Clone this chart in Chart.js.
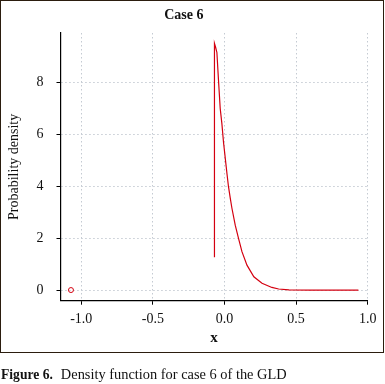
<!DOCTYPE html>
<html>
<head>
<meta charset="utf-8">
<script src="https://cdn.jsdelivr.net/npm/chart.js@4/dist/chart.umd.min.js"></script>
<style>
  html, body { margin: 0; padding: 0; background: #fff; }
  #wrap { position: relative; width: 385px; height: 384px; overflow: hidden; }
  #frame { position: absolute; left: 0; top: 0; width: 382px; height: 351px; border: 1px solid #2b1d0e; pointer-events: none; }
  #plot { position: absolute; left: 0; top: 0; }
  #caption { position: absolute; left: 1px; top: 366px; font: 14.4px "Liberation Serif", serif; color: #111; white-space: nowrap; }
  #caption b { font-size: 13.6px; margin-right: 8px; }
</style>
</head>
<body>
<div id="wrap">
  <canvas id="plot" width="385" height="384"></canvas>
  <div id="frame"></div>
  <div id="caption"><b>Figure 6.</b>Density function for case 6 of the GLD</div>
</div>
<script>
// density curve
const curveX = [-0.070, -0.070, -0.062, -0.053, -0.042, -0.030, -0.018, -0.007, 0.005, 0.017, 0.028, 0.040, 0.052, 0.075, 0.098, 0.122, 0.157, 0.205, 0.262, 0.331, 0.378, 0.45, 0.6, 0.8, 0.935];
const curveY = [1.26, 9.50, 9.35, 9.15, 8.10, 7.00, 6.40, 5.70, 5.10, 4.50, 3.98, 3.55, 3.15, 2.50, 1.99, 1.48, 0.96, 0.51, 0.26, 0.10, 0.04, 0.01, 0, 0, 0];
// lone point at the left
const dotX = [-1.072];
const dotY = [0];

const xTicks = [-1.0, -0.5, 0.0, 0.5, 1.0];
const yTicks = [0, 2, 4, 6, 8];

const serif = "'Liberation Serif', 'Times New Roman', serif";
const gridCol = "#c4cad2";

new Chart(document.getElementById("plot"), {
  type: "scatter",
  data: {
    datasets: [{
      data: curveX.map((x, i) => ({ x: x, y: curveY[i] })),
      showLine: true,
      borderColor: "#d40010",
      borderWidth: 1.2,
      pointRadius: 0,
      tension: 0
    }, {
      data: dotX.map((x, i) => ({ x: x, y: dotY[i] })),
      showLine: false,
      pointRadius: 2.5,
      pointBorderWidth: 1,
      pointBorderColor: "#d40010",
      pointBackgroundColor: "rgba(0,0,0,0)"
    }]
  },
  options: {
    responsive: false,
    animation: false,
    layout: { padding: { left: 0, right: 17.3, top: 0, bottom: 31.3 } },
    plugins: {
      legend: { display: false },
      tooltip: { enabled: false },
      title: {
        display: true,
        text: "Case 6",
        color: "#111",
        font: { family: serif, size: 14, weight: "bold", lineHeight: 1.2 },
        padding: { top: 7, bottom: 9.2 }
      }
    },
    scales: {
      x: {
        type: "linear",
        min: -1.145,
        max: 1.0,
        afterBuildTicks: s => { s.ticks = xTicks.map(v => ({ value: v })); },
        afterFit: s => { s.height = 52; },
        ticks: {
          color: "#111",
          font: { family: serif, size: 14 },
          padding: 6,
          maxRotation: 0,
          callback: v => v.toFixed(1)
        },
        grid: { color: gridCol, tickColor: "#000", tickLength: 4, lineWidth: 1 },
        border: { display: true, color: "#000", width: 1.2, dash: [1.5, 2.5] },
        title: {
          display: true,
          text: "x",
          color: "#111",
          font: { family: serif, size: 15, weight: "bold", lineHeight: 1.2 },
          padding: { top: 0, bottom: 5.3 }
        }
      },
      y: {
        type: "linear",
        min: -0.41,
        max: 9.9,
        afterBuildTicks: s => { s.ticks = yTicks.map(v => ({ value: v })); },
        afterFit: s => { s.width = 60.5; },
        ticks: {
          color: "#111",
          font: { family: serif, size: 14 },
          padding: 13
        },
        grid: { color: gridCol, tickColor: "#000", tickLength: 4, lineWidth: 1 },
        border: { display: true, color: "#000", width: 1.2, dash: [1.5, 2.5] },
        title: {
          display: true,
          text: "Probability density",
          color: "#111",
          font: { family: serif, size: 14, lineHeight: 1.2 },
          padding: { top: 5.6, bottom: 0 }
        }
      }
    }
  }
});
</script>
</body>
</html>
